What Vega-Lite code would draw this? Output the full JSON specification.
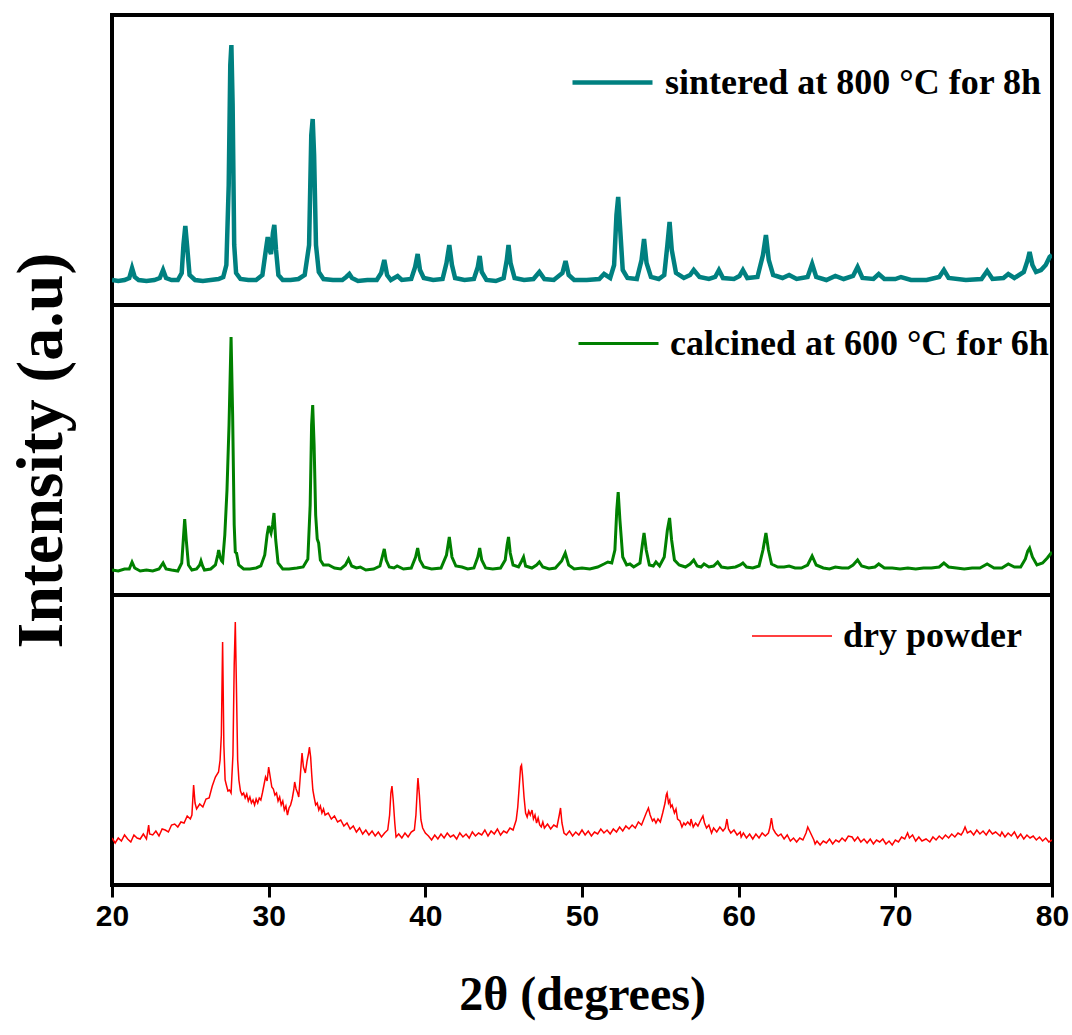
{
"$schema": "https://vega.github.io/schema/vega-lite/v6.json",
"padding": {"left": 5, "top": 13, "right": 5, "bottom": 5},
"background": "white",
"config": {
  "view": {"stroke": "black", "strokeWidth": 4},
  "legend": {"padding": 0, "labelFont": "Liberation Serif", "labelFontWeight": "bold", "labelFontSize": 36, "labelColor": "black", "labelLimit": 1000, "labelOffset": 10, "symbolType": "stroke", "symbolSize": 6400, "title": null}
},
"spacing": 0,
"bounds": "flush",
"resolve": {"scale": {"color": "independent", "y": "independent"}, "legend": {"color": "independent"}},
"datasets": {
"sintered": [
{"theta":20.0,"I":25},{"theta":20.4,"I":24},{"theta":20.8,"I":25},{"theta":21.1,"I":27},{"theta":21.28,"I":37},{"theta":21.45,"I":28},{"theta":21.7,"I":25},{"theta":22.2,"I":24},{"theta":22.7,"I":25},{"theta":23.05,"I":27},{"theta":23.26,"I":35},{"theta":23.45,"I":27},{"theta":23.8,"I":25},{"theta":24.2,"I":25},{"theta":24.45,"I":32},{"theta":24.56,"I":60},{"theta":24.68,"I":79},{"theta":24.8,"I":58},{"theta":24.95,"I":30},{"theta":25.3,"I":25},{"theta":25.8,"I":24},{"theta":26.3,"I":25},{"theta":26.8,"I":26},{"theta":27.1,"I":28},{"theta":27.3,"I":40},{"theta":27.45,"I":120},{"theta":27.55,"I":240},{"theta":27.62,"I":260},{"theta":27.7,"I":200},{"theta":27.8,"I":60},{"theta":27.92,"I":32},{"theta":28.2,"I":26},{"theta":28.7,"I":25},{"theta":29.2,"I":25},{"theta":29.6,"I":30},{"theta":29.82,"I":55},{"theta":29.94,"I":68},{"theta":30.05,"I":55},{"theta":30.15,"I":51},{"theta":30.27,"I":72},{"theta":30.36,"I":80},{"theta":30.47,"I":55},{"theta":30.62,"I":30},{"theta":30.9,"I":25},{"theta":31.4,"I":25},{"theta":31.9,"I":26},{"theta":32.3,"I":30},{"theta":32.58,"I":60},{"theta":32.72,"I":170},{"theta":32.81,"I":186},{"theta":32.9,"I":150},{"theta":33.02,"I":60},{"theta":33.2,"I":33},{"theta":33.5,"I":26},{"theta":34.1,"I":25},{"theta":34.7,"I":25},{"theta":34.95,"I":28},{"theta":35.15,"I":31},{"theta":35.32,"I":27},{"theta":35.7,"I":24},{"theta":36.3,"I":25},{"theta":36.9,"I":25},{"theta":37.18,"I":32},{"theta":37.38,"I":45},{"theta":37.56,"I":30},{"theta":37.8,"I":25},{"theta":38.23,"I":29},{"theta":38.5,"I":25},{"theta":39.1,"I":26},{"theta":39.35,"I":38},{"theta":39.51,"I":51},{"theta":39.66,"I":35},{"theta":39.9,"I":27},{"theta":40.5,"I":25},{"theta":41.1,"I":26},{"theta":41.35,"I":42},{"theta":41.53,"I":60},{"theta":41.7,"I":40},{"theta":41.9,"I":27},{"theta":42.5,"I":25},{"theta":43.1,"I":26},{"theta":43.35,"I":38},{"theta":43.47,"I":49},{"theta":43.6,"I":33},{"theta":43.9,"I":25},{"theta":44.5,"I":24},{"theta":45.0,"I":27},{"theta":45.2,"I":45},{"theta":45.31,"I":60},{"theta":45.44,"I":42},{"theta":45.7,"I":27},{"theta":46.3,"I":25},{"theta":46.9,"I":26},{"theta":47.28,"I":33},{"theta":47.6,"I":26},{"theta":48.2,"I":25},{"theta":48.75,"I":32},{"theta":48.95,"I":44},{"theta":49.15,"I":30},{"theta":49.5,"I":25},{"theta":50.3,"I":25},{"theta":51.1,"I":26},{"theta":51.41,"I":31},{"theta":51.8,"I":27},{"theta":52.05,"I":40},{"theta":52.2,"I":90},{"theta":52.31,"I":108},{"theta":52.42,"I":80},{"theta":52.6,"I":35},{"theta":52.9,"I":27},{"theta":53.5,"I":26},{"theta":53.8,"I":45},{"theta":53.96,"I":66},{"theta":54.12,"I":42},{"theta":54.4,"I":28},{"theta":54.9,"I":26},{"theta":55.25,"I":30},{"theta":55.45,"I":60},{"theta":55.59,"I":83},{"theta":55.73,"I":55},{"theta":56.0,"I":32},{"theta":56.5,"I":27},{"theta":56.9,"I":30},{"theta":57.13,"I":35},{"theta":57.5,"I":28},{"theta":58.1,"I":26},{"theta":58.5,"I":28},{"theta":58.74,"I":35},{"theta":59.0,"I":27},{"theta":59.7,"I":26},{"theta":60.05,"I":29},{"theta":60.27,"I":35},{"theta":60.55,"I":27},{"theta":61.2,"I":28},{"theta":61.55,"I":50},{"theta":61.74,"I":70},{"theta":61.92,"I":45},{"theta":62.2,"I":30},{"theta":62.8,"I":27},{"theta":63.22,"I":30},{"theta":63.7,"I":26},{"theta":64.4,"I":28},{"theta":64.69,"I":41},{"theta":64.95,"I":28},{"theta":65.6,"I":25},{"theta":66.17,"I":29},{"theta":66.7,"I":26},{"theta":67.3,"I":29},{"theta":67.59,"I":38},{"theta":67.9,"I":27},{"theta":68.6,"I":26},{"theta":68.94,"I":31},{"theta":69.3,"I":26},{"theta":70.0,"I":26},{"theta":70.36,"I":28},{"theta":71.0,"I":25},{"theta":72.0,"I":25},{"theta":72.8,"I":28},{"theta":73.1,"I":35},{"theta":73.4,"I":27},{"theta":74.5,"I":25},{"theta":75.5,"I":26},{"theta":75.86,"I":34},{"theta":76.2,"I":26},{"theta":76.9,"I":27},{"theta":77.21,"I":31},{"theta":77.6,"I":27},{"theta":78.2,"I":33},{"theta":78.45,"I":45},{"theta":78.57,"I":53},{"theta":78.75,"I":40},{"theta":78.98,"I":33},{"theta":79.3,"I":35},{"theta":79.6,"I":40},{"theta":79.85,"I":48},{"theta":80.0,"I":50}
],
"calcined": [
{"theta":20.0,"I":25},{"theta":20.4,"I":24},{"theta":20.8,"I":26},{"theta":21.1,"I":26},{"theta":21.28,"I":33},{"theta":21.45,"I":27},{"theta":21.8,"I":24},{"theta":22.2,"I":25},{"theta":22.6,"I":24},{"theta":23.0,"I":26},{"theta":23.26,"I":32},{"theta":23.45,"I":26},{"theta":23.8,"I":25},{"theta":24.2,"I":24},{"theta":24.45,"I":32},{"theta":24.55,"I":55},{"theta":24.64,"I":76},{"theta":24.74,"I":55},{"theta":24.88,"I":30},{"theta":25.1,"I":25},{"theta":25.4,"I":26},{"theta":25.6,"I":30},{"theta":25.68,"I":34},{"theta":25.78,"I":29},{"theta":25.9,"I":25},{"theta":26.3,"I":26},{"theta":26.6,"I":30},{"theta":26.75,"I":40},{"theta":26.81,"I":45},{"theta":26.9,"I":38},{"theta":27.0,"I":34},{"theta":27.06,"I":33},{"theta":27.2,"I":60},{"theta":27.34,"I":105},{"theta":27.47,"I":170},{"theta":27.6,"I":258},{"theta":27.7,"I":180},{"theta":27.8,"I":70},{"theta":27.87,"I":43},{"theta":27.95,"I":42},{"theta":28.09,"I":30},{"theta":28.4,"I":26},{"theta":28.8,"I":26},{"theta":29.2,"I":27},{"theta":29.5,"I":29},{"theta":29.75,"I":40},{"theta":29.9,"I":60},{"theta":30.0,"I":69},{"theta":30.15,"I":62},{"theta":30.25,"I":70},{"theta":30.34,"I":82},{"theta":30.45,"I":55},{"theta":30.6,"I":32},{"theta":30.9,"I":26},{"theta":31.3,"I":26},{"theta":31.8,"I":27},{"theta":32.2,"I":28},{"theta":32.5,"I":36},{"theta":32.65,"I":90},{"theta":32.74,"I":170},{"theta":32.81,"I":190},{"theta":32.9,"I":150},{"theta":33.0,"I":80},{"theta":33.1,"I":56},{"theta":33.19,"I":52},{"theta":33.3,"I":35},{"theta":33.5,"I":30},{"theta":33.83,"I":30},{"theta":34.2,"I":27},{"theta":34.6,"I":26},{"theta":34.9,"I":30},{"theta":35.1,"I":36},{"theta":35.3,"I":29},{"theta":35.6,"I":27},{"theta":35.85,"I":28},{"theta":36.2,"I":25},{"theta":36.7,"I":26},{"theta":37.1,"I":29},{"theta":37.28,"I":40},{"theta":37.38,"I":46},{"theta":37.5,"I":35},{"theta":37.7,"I":28},{"theta":38.0,"I":27},{"theta":38.2,"I":29},{"theta":38.6,"I":26},{"theta":39.1,"I":27},{"theta":39.38,"I":38},{"theta":39.51,"I":47},{"theta":39.65,"I":35},{"theta":39.9,"I":28},{"theta":40.4,"I":26},{"theta":41.0,"I":27},{"theta":41.35,"I":40},{"theta":41.53,"I":58},{"theta":41.7,"I":38},{"theta":41.95,"I":29},{"theta":42.34,"I":28},{"theta":42.7,"I":26},{"theta":43.1,"I":27},{"theta":43.35,"I":38},{"theta":43.47,"I":47},{"theta":43.6,"I":35},{"theta":43.85,"I":27},{"theta":44.3,"I":26},{"theta":44.8,"I":27},{"theta":45.1,"I":35},{"theta":45.22,"I":50},{"theta":45.31,"I":58},{"theta":45.42,"I":42},{"theta":45.6,"I":30},{"theta":45.95,"I":28},{"theta":46.15,"I":34},{"theta":46.27,"I":38},{"theta":46.4,"I":29},{"theta":46.8,"I":27},{"theta":47.1,"I":30},{"theta":47.28,"I":33},{"theta":47.5,"I":28},{"theta":47.9,"I":26},{"theta":48.3,"I":27},{"theta":48.7,"I":34},{"theta":48.93,"I":42},{"theta":49.15,"I":30},{"theta":49.5,"I":26},{"theta":50.0,"I":27},{"theta":50.5,"I":26},{"theta":51.0,"I":28},{"theta":51.4,"I":31},{"theta":51.65,"I":33},{"theta":51.9,"I":32},{"theta":52.1,"I":45},{"theta":52.22,"I":85},{"theta":52.31,"I":103},{"theta":52.42,"I":75},{"theta":52.6,"I":38},{"theta":52.85,"I":30},{"theta":53.06,"I":31},{"theta":53.3,"I":28},{"theta":53.7,"I":32},{"theta":53.85,"I":50},{"theta":53.96,"I":62},{"theta":54.1,"I":45},{"theta":54.3,"I":30},{"theta":54.55,"I":29},{"theta":54.72,"I":33},{"theta":54.95,"I":29},{"theta":55.25,"I":38},{"theta":55.45,"I":65},{"theta":55.59,"I":77},{"theta":55.72,"I":55},{"theta":55.9,"I":35},{"theta":56.2,"I":30},{"theta":56.6,"I":28},{"theta":56.9,"I":31},{"theta":57.13,"I":35},{"theta":57.35,"I":29},{"theta":57.6,"I":28},{"theta":57.79,"I":31},{"theta":58.1,"I":28},{"theta":58.4,"I":29},{"theta":58.66,"I":33},{"theta":58.9,"I":28},{"theta":59.3,"I":27},{"theta":59.8,"I":28},{"theta":60.1,"I":30},{"theta":60.27,"I":32},{"theta":60.5,"I":28},{"theta":60.9,"I":27},{"theta":61.3,"I":29},{"theta":61.55,"I":45},{"theta":61.74,"I":62},{"theta":61.9,"I":45},{"theta":62.1,"I":31},{"theta":62.5,"I":28},{"theta":62.9,"I":28},{"theta":63.22,"I":29},{"theta":63.6,"I":27},{"theta":64.0,"I":27},{"theta":64.4,"I":30},{"theta":64.69,"I":39},{"theta":64.95,"I":30},{"theta":65.4,"I":27},{"theta":65.8,"I":26},{"theta":66.17,"I":28},{"theta":66.6,"I":27},{"theta":67.0,"I":27},{"theta":67.3,"I":30},{"theta":67.59,"I":35},{"theta":67.85,"I":29},{"theta":68.3,"I":27},{"theta":68.7,"I":28},{"theta":68.94,"I":31},{"theta":69.3,"I":27},{"theta":69.8,"I":27},{"theta":70.3,"I":26},{"theta":70.8,"I":27},{"theta":71.3,"I":26},{"theta":71.8,"I":27},{"theta":72.3,"I":27},{"theta":72.8,"I":28},{"theta":73.1,"I":32},{"theta":73.4,"I":28},{"theta":73.9,"I":27},{"theta":74.4,"I":26},{"theta":74.9,"I":27},{"theta":75.4,"I":27},{"theta":75.86,"I":31},{"theta":76.3,"I":27},{"theta":76.8,"I":27},{"theta":77.21,"I":31},{"theta":77.6,"I":28},{"theta":78.0,"I":28},{"theta":78.3,"I":36},{"theta":78.45,"I":44},{"theta":78.57,"I":47},{"theta":78.75,"I":38},{"theta":79.04,"I":30},{"theta":79.4,"I":32},{"theta":79.7,"I":37},{"theta":80.0,"I":43}
],
"dry": [
{"theta":20.0,"I":47},{"theta":20.2,"I":42},{"theta":20.4,"I":47},{"theta":20.6,"I":44},{"theta":20.8,"I":50},{"theta":21.0,"I":46},{"theta":21.2,"I":43},{"theta":21.4,"I":50},{"theta":21.6,"I":47},{"theta":21.8,"I":46},{"theta":22.0,"I":51},{"theta":22.2,"I":46},{"theta":22.34,"I":60},{"theta":22.4,"I":51},{"theta":22.6,"I":50},{"theta":22.8,"I":54},{"theta":23.0,"I":49},{"theta":23.2,"I":56},{"theta":23.4,"I":55},{"theta":23.6,"I":53},{"theta":23.8,"I":60},{"theta":24.0,"I":61},{"theta":24.2,"I":58},{"theta":24.4,"I":63},{"theta":24.6,"I":62},{"theta":24.8,"I":69},{"theta":25.0,"I":66},{"theta":25.1,"I":70},{"theta":25.21,"I":100},{"theta":25.3,"I":82},{"theta":25.4,"I":76},{"theta":25.6,"I":81},{"theta":25.8,"I":78},{"theta":26.0,"I":86},{"theta":26.2,"I":87},{"theta":26.4,"I":99},{"theta":26.6,"I":108},{"theta":26.8,"I":113},{"theta":26.9,"I":125},{"theta":26.98,"I":150},{"theta":27.06,"I":243},{"theta":27.14,"I":140},{"theta":27.22,"I":105},{"theta":27.3,"I":100},{"theta":27.4,"I":94},{"theta":27.5,"I":95},{"theta":27.6,"I":92},{"theta":27.72,"I":130},{"theta":27.8,"I":220},{"theta":27.87,"I":263},{"theta":27.94,"I":200},{"theta":28.02,"I":125},{"theta":28.1,"I":105},{"theta":28.2,"I":94},{"theta":28.3,"I":90},{"theta":28.4,"I":92},{"theta":28.5,"I":87},{"theta":28.6,"I":91},{"theta":28.7,"I":84},{"theta":28.8,"I":88},{"theta":28.9,"I":82},{"theta":29.0,"I":85},{"theta":29.1,"I":80},{"theta":29.2,"I":86},{"theta":29.3,"I":82},{"theta":29.4,"I":87},{"theta":29.5,"I":85},{"theta":29.6,"I":92},{"theta":29.7,"I":100},{"theta":29.8,"I":108},{"theta":29.9,"I":104},{"theta":30.0,"I":118},{"theta":30.1,"I":108},{"theta":30.2,"I":98},{"theta":30.3,"I":96},{"theta":30.4,"I":90},{"theta":30.5,"I":92},{"theta":30.6,"I":84},{"theta":30.7,"I":88},{"theta":30.8,"I":80},{"theta":30.9,"I":84},{"theta":31.0,"I":75},{"theta":31.1,"I":79},{"theta":31.2,"I":70},{"theta":31.3,"I":77},{"theta":31.4,"I":80},{"theta":31.5,"I":86},{"theta":31.6,"I":95},{"theta":31.66,"I":103},{"theta":31.75,"I":96},{"theta":31.85,"I":92},{"theta":31.92,"I":88},{"theta":32.0,"I":105},{"theta":32.08,"I":122},{"theta":32.13,"I":132},{"theta":32.22,"I":118},{"theta":32.34,"I":112},{"theta":32.45,"I":124},{"theta":32.55,"I":132},{"theta":32.6,"I":138},{"theta":32.68,"I":128},{"theta":32.75,"I":110},{"theta":32.82,"I":95},{"theta":32.9,"I":88},{"theta":33.0,"I":80},{"theta":33.1,"I":82},{"theta":33.2,"I":75},{"theta":33.3,"I":79},{"theta":33.4,"I":72},{"theta":33.5,"I":76},{"theta":33.6,"I":70},{"theta":33.8,"I":72},{"theta":34.0,"I":66},{"theta":34.2,"I":69},{"theta":34.4,"I":63},{"theta":34.6,"I":65},{"theta":34.8,"I":59},{"theta":35.0,"I":62},{"theta":35.2,"I":56},{"theta":35.4,"I":59},{"theta":35.6,"I":53},{"theta":35.8,"I":57},{"theta":36.0,"I":51},{"theta":36.2,"I":55},{"theta":36.4,"I":50},{"theta":36.6,"I":54},{"theta":36.8,"I":49},{"theta":37.0,"I":53},{"theta":37.2,"I":48},{"theta":37.4,"I":52},{"theta":37.6,"I":55},{"theta":37.72,"I":70},{"theta":37.8,"I":92},{"theta":37.87,"I":99},{"theta":37.95,"I":85},{"theta":38.05,"I":62},{"theta":38.13,"I":48},{"theta":38.3,"I":51},{"theta":38.5,"I":47},{"theta":38.7,"I":52},{"theta":38.9,"I":48},{"theta":39.1,"I":53},{"theta":39.3,"I":55},{"theta":39.4,"I":70},{"theta":39.5,"I":100},{"theta":39.53,"I":107},{"theta":39.62,"I":90},{"theta":39.72,"I":65},{"theta":39.83,"I":57},{"theta":40.0,"I":52},{"theta":40.2,"I":49},{"theta":40.4,"I":45},{"theta":40.6,"I":50},{"theta":40.8,"I":46},{"theta":41.0,"I":51},{"theta":41.2,"I":47},{"theta":41.4,"I":52},{"theta":41.6,"I":48},{"theta":41.8,"I":50},{"theta":42.0,"I":46},{"theta":42.2,"I":52},{"theta":42.4,"I":48},{"theta":42.6,"I":51},{"theta":42.8,"I":47},{"theta":43.0,"I":53},{"theta":43.2,"I":49},{"theta":43.4,"I":52},{"theta":43.6,"I":50},{"theta":43.8,"I":55},{"theta":44.0,"I":49},{"theta":44.2,"I":54},{"theta":44.4,"I":51},{"theta":44.6,"I":56},{"theta":44.8,"I":50},{"theta":45.0,"I":54},{"theta":45.2,"I":52},{"theta":45.4,"I":57},{"theta":45.6,"I":55},{"theta":45.8,"I":65},{"theta":45.9,"I":78},{"theta":46.0,"I":100},{"theta":46.08,"I":118},{"theta":46.14,"I":120},{"theta":46.2,"I":110},{"theta":46.3,"I":88},{"theta":46.4,"I":72},{"theta":46.5,"I":68},{"theta":46.6,"I":74},{"theta":46.7,"I":70},{"theta":46.81,"I":75},{"theta":46.9,"I":66},{"theta":47.0,"I":70},{"theta":47.1,"I":62},{"theta":47.2,"I":67},{"theta":47.3,"I":60},{"theta":47.4,"I":58},{"theta":47.5,"I":63},{"theta":47.6,"I":57},{"theta":47.8,"I":61},{"theta":48.0,"I":56},{"theta":48.2,"I":60},{"theta":48.4,"I":58},{"theta":48.55,"I":70},{"theta":48.63,"I":77},{"theta":48.72,"I":62},{"theta":48.85,"I":52},{"theta":49.0,"I":50},{"theta":49.2,"I":54},{"theta":49.4,"I":49},{"theta":49.6,"I":53},{"theta":49.8,"I":50},{"theta":50.0,"I":55},{"theta":50.2,"I":50},{"theta":50.4,"I":54},{"theta":50.6,"I":49},{"theta":50.8,"I":53},{"theta":51.0,"I":51},{"theta":51.2,"I":56},{"theta":51.4,"I":52},{"theta":51.6,"I":55},{"theta":51.8,"I":51},{"theta":52.0,"I":56},{"theta":52.2,"I":53},{"theta":52.4,"I":58},{"theta":52.6,"I":54},{"theta":52.8,"I":59},{"theta":53.0,"I":56},{"theta":53.2,"I":60},{"theta":53.4,"I":57},{"theta":53.6,"I":63},{"theta":53.8,"I":60},{"theta":54.0,"I":68},{"theta":54.1,"I":72},{"theta":54.24,"I":77},{"theta":54.35,"I":70},{"theta":54.5,"I":64},{"theta":54.6,"I":66},{"theta":54.72,"I":62},{"theta":54.85,"I":66},{"theta":55.0,"I":63},{"theta":55.15,"I":72},{"theta":55.3,"I":82},{"theta":55.38,"I":90},{"theta":55.43,"I":92},{"theta":55.52,"I":82},{"theta":55.6,"I":85},{"theta":55.66,"I":78},{"theta":55.75,"I":80},{"theta":55.9,"I":72},{"theta":56.0,"I":76},{"theta":56.1,"I":66},{"theta":56.25,"I":64},{"theta":56.38,"I":58},{"theta":56.5,"I":62},{"theta":56.6,"I":60},{"theta":56.75,"I":63},{"theta":56.9,"I":60},{"theta":56.96,"I":66},{"theta":57.1,"I":58},{"theta":57.25,"I":62},{"theta":57.4,"I":59},{"theta":57.55,"I":64},{"theta":57.72,"I":69},{"theta":57.82,"I":62},{"theta":57.95,"I":57},{"theta":58.1,"I":60},{"theta":58.27,"I":52},{"theta":58.4,"I":57},{"theta":58.6,"I":53},{"theta":58.8,"I":58},{"theta":59.0,"I":54},{"theta":59.15,"I":57},{"theta":59.25,"I":66},{"theta":59.35,"I":56},{"theta":59.5,"I":52},{"theta":59.7,"I":55},{"theta":59.9,"I":50},{"theta":60.1,"I":53},{"theta":60.16,"I":48},{"theta":60.3,"I":52},{"theta":60.5,"I":47},{"theta":60.7,"I":51},{"theta":60.9,"I":46},{"theta":61.1,"I":51},{"theta":61.3,"I":47},{"theta":61.5,"I":52},{"theta":61.7,"I":49},{"theta":61.9,"I":52},{"theta":62.0,"I":58},{"theta":62.09,"I":67},{"theta":62.2,"I":56},{"theta":62.35,"I":52},{"theta":62.52,"I":49},{"theta":62.7,"I":51},{"theta":62.9,"I":46},{"theta":63.1,"I":50},{"theta":63.3,"I":44},{"theta":63.5,"I":47},{"theta":63.7,"I":43},{"theta":63.9,"I":47},{"theta":64.1,"I":45},{"theta":64.3,"I":52},{"theta":64.41,"I":58},{"theta":64.5,"I":55},{"theta":64.65,"I":50},{"theta":64.8,"I":45},{"theta":64.88,"I":41},{"theta":65.0,"I":44},{"theta":65.2,"I":40},{"theta":65.4,"I":44},{"theta":65.6,"I":42},{"theta":65.8,"I":46},{"theta":66.0,"I":41},{"theta":66.2,"I":45},{"theta":66.4,"I":43},{"theta":66.6,"I":47},{"theta":66.8,"I":44},{"theta":67.0,"I":49},{"theta":67.24,"I":48},{"theta":67.4,"I":44},{"theta":67.6,"I":48},{"theta":67.8,"I":43},{"theta":68.0,"I":46},{"theta":68.2,"I":42},{"theta":68.4,"I":46},{"theta":68.6,"I":41},{"theta":68.8,"I":45},{"theta":69.0,"I":43},{"theta":69.2,"I":46},{"theta":69.4,"I":41},{"theta":69.6,"I":44},{"theta":69.8,"I":40},{"theta":70.0,"I":45},{"theta":70.2,"I":43},{"theta":70.4,"I":48},{"theta":70.6,"I":46},{"theta":70.78,"I":52},{"theta":70.9,"I":47},{"theta":71.1,"I":50},{"theta":71.3,"I":44},{"theta":71.5,"I":48},{"theta":71.7,"I":44},{"theta":71.96,"I":46},{"theta":72.2,"I":43},{"theta":72.4,"I":48},{"theta":72.6,"I":45},{"theta":72.8,"I":49},{"theta":73.0,"I":46},{"theta":73.2,"I":50},{"theta":73.4,"I":47},{"theta":73.6,"I":51},{"theta":73.8,"I":48},{"theta":74.0,"I":52},{"theta":74.2,"I":50},{"theta":74.32,"I":53},{"theta":74.45,"I":58},{"theta":74.6,"I":52},{"theta":74.8,"I":54},{"theta":75.0,"I":50},{"theta":75.2,"I":55},{"theta":75.4,"I":51},{"theta":75.6,"I":54},{"theta":75.8,"I":50},{"theta":76.0,"I":55},{"theta":76.2,"I":51},{"theta":76.4,"I":53},{"theta":76.69,"I":49},{"theta":76.8,"I":53},{"theta":77.0,"I":48},{"theta":77.2,"I":52},{"theta":77.4,"I":49},{"theta":77.6,"I":53},{"theta":77.8,"I":47},{"theta":78.0,"I":51},{"theta":78.2,"I":46},{"theta":78.4,"I":50},{"theta":78.6,"I":47},{"theta":78.8,"I":49},{"theta":79.0,"I":45},{"theta":79.2,"I":48},{"theta":79.4,"I":44},{"theta":79.6,"I":47},{"theta":79.8,"I":43},{"theta":80.0,"I":45}
]
},
"vconcat": [
{
  "width": 940, "height": 290,
  "data": {"name": "sintered"},
  "mark": {"type": "line", "strokeWidth": 4.5, "clip": true},
  "encoding": {
    "x": {"field": "theta", "type": "quantitative", "scale": {"domain": [20, 80], "nice": false, "zero": false}, "axis": {"labels": false, "ticks": false, "domain": false, "grid": false, "title": null}},
    "y": {"field": "I", "type": "quantitative", "scale": {"domain": [0, 290], "nice": false}, "axis": {"labels": false, "ticks": false, "domain": false, "grid": false, "title": null}},
    "color": {"datum": "sintered at 800 °C for 8h", "type": "nominal", "scale": {"range": ["#008080"]}, "legend": {"orient": "none", "legendX": 458, "legendY": 25, "symbolStrokeWidth": 4.5}}
  }
},
{
  "width": 940, "height": 290,
  "data": {"name": "calcined"},
  "mark": {"type": "line", "strokeWidth": 3, "clip": true},
  "encoding": {
    "x": {"field": "theta", "type": "quantitative", "scale": {"domain": [20, 80], "nice": false, "zero": false}, "axis": {"labels": false, "ticks": false, "domain": false, "grid": false, "title": null}},
    "y": {"field": "I", "type": "quantitative", "scale": {"domain": [0, 290], "nice": false}, "axis": {"labels": false, "ticks": false, "domain": false, "grid": false, "title": "Intensity (a.u)", "titleFont": "Liberation Serif", "titleFontWeight": "bold", "titleFontSize": 66, "titlePadding": 37, "titleColor": "black"}},
    "color": {"datum": "calcined at 600 °C for 6h", "type": "nominal", "scale": {"range": ["#008000"]}, "legend": {"orient": "none", "legendX": 465, "legendY": -3, "symbolStrokeWidth": 3}}
  }
},
{
  "width": 940, "height": 290,
  "data": {"name": "dry"},
  "mark": {"type": "line", "strokeWidth": 1.5, "clip": true},
  "encoding": {
    "x": {"field": "theta", "type": "quantitative", "scale": {"domain": [20, 80], "nice": false, "zero": false}, "axis": {"values": [20, 30, 40, 50, 60, 70, 80], "domain": false, "grid": false, "ticks": true, "tickSize": 12, "tickWidth": 3, "tickColor": "black", "labelFlush": false, "labelFont": "Liberation Sans", "labelFontWeight": "bold", "labelFontSize": 30, "labelColor": "black", "labelPadding": 4, "title": "2θ (degrees)", "titleFont": "Liberation Serif", "titleFontWeight": "bold", "titleFontSize": 48, "titleColor": "black", "titlePadding": 40}},
    "y": {"field": "I", "type": "quantitative", "scale": {"domain": [0, 290], "nice": false}, "axis": {"labels": false, "ticks": false, "domain": false, "grid": false, "title": null}},
    "color": {"datum": "dry powder", "type": "nominal", "scale": {"range": ["#ff0000"]}, "legend": {"orient": "none", "legendX": 639, "legendY": 0, "symbolStrokeWidth": 1.5}}
  }
}
]
}
